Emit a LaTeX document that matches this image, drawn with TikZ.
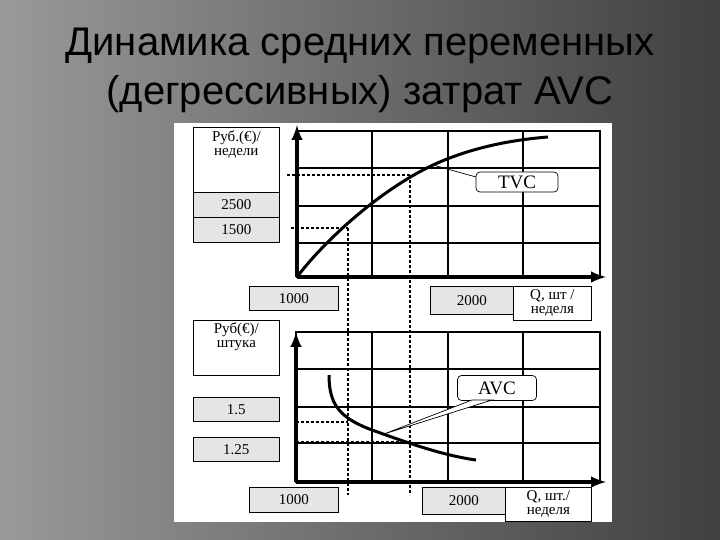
\documentclass[tikz,border=0pt]{standalone}
\usepackage{fontspec}
\setmainfont{Liberation Serif}
\newfontfamily\titlefont{Liberation Sans}
\usetikzlibrary{shapes.misc}
\begin{document}
\begin{tikzpicture}[x=1pt,y=-1pt,
  lbl/.style={draw,line width=0.7pt,font=\fontsize{15}{14}\selectfont,align=center,inner sep=0pt},
  gbox/.style={lbl,fill=gray!20},
  grid/.style={line width=1.2pt},
  axis/.style={line width=4pt,-latex},
  curve/.style={line width=3pt},
  dsh/.style={line width=2.4pt,dash pattern=on 3pt off 2pt},
  call/.style={draw,rounded corners=4pt,line width=0.7pt,fill=white,font=\fontsize{19}{19}\selectfont,inner sep=0pt},
  ttl/.style={font=\titlefont\fontsize{40}{40}\selectfont}]
\useasboundingbox (0,0) rectangle (720,540);
\shade[left color=black!40,right color=black!75] (0,0) rectangle (720,540);
% title
\node[ttl,text=black] (t1) at (360,46) {Динамика средних переменных};
\node[ttl,text=black] (t2) at (360,94) {(дегрессивных) затрат AVC};
% panel
\fill[white] (174,123) rectangle (612,522);
% ===== top chart
\draw[grid] (297,131) rectangle (600,277);
\foreach \x in {372,448,523} \draw[grid] (\x,131) -- (\x,277);
\foreach \y in {168,206,243} \draw[grid] (297,\y) -- (600,\y);
\draw[dsh] (291,228) -- (348,228);
\draw[dsh] (287,175) -- (410,175);
\draw[dsh] (348,228) -- (348,495);
\draw[dsh] (410,175) -- (410,495);
\coordinate (o1) at (297,277);
\coordinate (y1) at (297,125);
\coordinate (x1) at (606,277);
\draw[axis] (o1) -- (y1);
\draw[axis] (o1) -- (x1);
\draw[curve] (297,277) .. controls (325,240) and (380,190) .. (433,165) .. controls (470,148) and (510,140) .. (548,137);
\coordinate (p1) at (433,165);
\node[call,minimum width=82pt,minimum height=20pt] (tvc) at (517,182) {TVC};
\draw[line width=0.7pt] (p1) -- (476,177);
\node[lbl,minimum width=86pt,minimum height=65pt,anchor=north west,text depth=34pt] (ly1) at (193,127) {Руб.(€)/\\недели};
\node[gbox,minimum width=86pt,minimum height=25pt,anchor=north west] (v2500) at (193,192) {2500};
\node[gbox,minimum width=86pt,minimum height=25pt,anchor=north west] (v1500) at (193,217) {1500};
\node[gbox,minimum width=89pt,minimum height=24pt,anchor=north west] (q1a) at (249,286) {1000};
\node[gbox,minimum width=83pt,minimum height=28pt,anchor=north west] (q1b) at (430,286) {2000};
\node[lbl,minimum width=78pt,minimum height=34pt,anchor=north west,fill=white] (q1c) at (513,286) {Q, шт /\\неделя};
% ===== bottom chart
\draw[grid] (296,332) rectangle (600,482);
\foreach \x in {372,448,523} \draw[grid] (\x,332) -- (\x,482);
\foreach \y in {369,407,443} \draw[grid] (296,\y) -- (600,\y);
\draw[dsh] (296,422) -- (348,422);
\draw[dsh] (296,442) -- (410,442);
\coordinate (o2) at (296,482);
\coordinate (y2) at (296,332);
\coordinate (x2) at (606,482);
\draw[axis] (o2) -- (y2);
\draw[axis] (o2) -- (x2);
\draw[curve] (329,375) .. controls (329,405) and (340,418) .. (372,430) .. controls (400,440) and (440,455) .. (476,460);
\node[call,minimum width=79pt,minimum height=25pt] (avc) at (497,388) {AVC};
\coordinate (p2) at (384,434);
\draw[line width=0.7pt,fill=white] (p2) -- (472,400) -- (492,400) -- cycle;
\node[lbl,minimum width=86pt,minimum height=55pt,anchor=north west,text depth=26pt] (ly2) at (193,320) {Руб(€)/\\штука};
\node[gbox,minimum width=86pt,minimum height=24pt,anchor=north west] (v15) at (193,397) {1.5};
\node[gbox,minimum width=86pt,minimum height=24pt,anchor=north west] (v125) at (193,437) {1.25};
\node[gbox,minimum width=89pt,minimum height=25pt,anchor=north west] (q2a) at (249,487) {1000};
\node[gbox,minimum width=83pt,minimum height=27pt,anchor=north west] (q2b) at (422,487) {2000};
\node[lbl,minimum width=86pt,minimum height=34pt,anchor=north west,fill=white] (q2c) at (505,487) {Q, шт./\\неделя};
\end{tikzpicture}
\end{document}
